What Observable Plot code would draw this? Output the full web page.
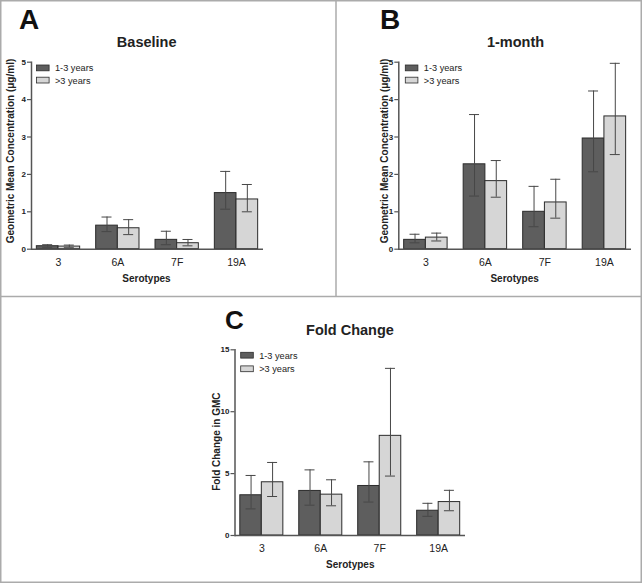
<!DOCTYPE html>
<html><head><meta charset="utf-8">
<script src="https://cdn.jsdelivr.net/npm/d3@7"></script>
<script src="https://cdn.jsdelivr.net/npm/@observablehq/plot@0.6"></script>
<style>
body{margin:0;background:#fff;}
#wrap{position:relative;width:642px;height:583px;background:#fff;overflow:hidden;font-family:"Liberation Sans",Arial,sans-serif;}
#wrap svg{position:absolute;}
</style></head><body><div id="wrap"></div>
<script>
// ---------- data ----------
const serotypes = ["3", "6A", "7F", "19A"];
const groups = ["1-3 years", ">3 years"];

// Panel A: Baseline GMC (µg/ml)
const baseYoung   = [0.08, 0.63, 0.25, 1.50];
const baseYoungLo = [0.05, 0.47, 0.12, 1.07];
const baseYoungHi = [0.12, 0.86, 0.48, 2.08];
const baseOld     = [0.07, 0.56, 0.16, 1.33];
const baseOldLo   = [0.04, 0.39, 0.09, 1.00];
const baseOldHi   = [0.11, 0.79, 0.26, 1.73];

// Panel B: 1-month GMC (µg/ml)
const monthYoung   = [0.25, 2.27, 1.00, 2.96];
const monthYoungLo = [0.17, 1.42, 0.60, 2.07];
const monthYoungHi = [0.40, 3.60, 1.68, 4.23];
const monthOld     = [0.31, 1.82, 1.25, 3.55];
const monthOldLo   = [0.22, 1.39, 0.83, 2.53];
const monthOldHi   = [0.43, 2.37, 1.87, 4.97];

// Panel C: Fold change in GMC
const foldYoung   = [3.25, 3.60, 4.00, 2.00];
const foldYoungLo = [2.15, 2.45, 2.70, 1.55];
const foldYoungHi = [4.85, 5.30, 5.95, 2.60];
const foldOld     = [4.30, 3.30, 8.05, 2.70];
const foldOldLo   = [3.15, 2.40, 4.80, 2.00];
const foldOldHi   = [5.90, 4.50, 13.50, 3.65];

const ticksAB = [0, 1, 2, 3, 4, 5];
const ticksC = [0, 5, 10, 15];

// ---------- styles ----------
const DARK = "#5e5e5e", LIGHT = "#d6d6d6", EDGE = "#2b2b2b", ERR = "#474747", AXIS = "#555", TXT = "#222";
const FONT = '"Liberation Sans", Arial, sans-serif';

function rowsOf(v1, l1, h1, v2, l2, h2) {
  return serotypes.map((cat, i) => ({cat, v1: v1[i], lo1: l1[i], hi1: h1[i], v2: v2[i], lo2: l2[i], hi2: h2[i]}));
}

function panel({rows, yMax, yTicks, width, height, mt, mr, mb, ml}) {
  const pi = 0.27, po = 0.09;
  const bw = d3.scaleBand().domain(serotypes).range([ml, width - mr]).paddingInner(pi).paddingOuter(po).bandwidth();
  const half = bw / 2, q = bw / 4, cap = 5;
  const capL = {insetLeft: q - cap, insetRight: 3 * q - cap};
  const capR = {insetLeft: 3 * q - cap, insetRight: q - cap};
  const errStyle = {stroke: ERR, strokeWidth: 1};
  return Plot.plot({
    width, height,
    marginTop: mt, marginRight: mr, marginBottom: mb, marginLeft: ml,
    style: {fontFamily: FONT, color: AXIS, background: "transparent", overflow: "visible"},
    x: {domain: serotypes, paddingInner: pi, paddingOuter: po, align: 0.5, round: false, label: null},
    y: {domain: [0, yMax], label: null},
    marks: [
      Plot.barY(rows, {x: "cat", y: "v1", insetRight: half, fill: DARK, stroke: EDGE, strokeWidth: 1}),
      Plot.barY(rows, {x: "cat", y: "v2", insetLeft: half, fill: LIGHT, stroke: EDGE, strokeWidth: 1}),
      Plot.ruleX(rows, {x: "cat", y1: "lo1", y2: "hi1", dx: -q, ...errStyle}),
      Plot.ruleX(rows, {x: "cat", y1: "lo2", y2: "hi2", dx: q, ...errStyle}),
      Plot.tickY(rows, {x: "cat", y: "hi1", ...capL, ...errStyle}),
      Plot.tickY(rows, {x: "cat", y: "lo1", ...capL, ...errStyle}),
      Plot.tickY(rows, {x: "cat", y: "hi2", ...capR, ...errStyle}),
      Plot.tickY(rows, {x: "cat", y: "lo2", ...capR, ...errStyle}),
      Plot.frame({anchor: "left", stroke: AXIS, strokeWidth: 1.5}),
      Plot.ruleY([0], {stroke: AXIS, strokeWidth: 1.5}),
      Plot.axisY({ticks: yTicks, tickFormat: d => d, tickSize: 4, tickPadding: 1.5, fontSize: 8, fontWeight: "bold", fill: TXT, stroke: AXIS, strokeWidth: 1.2, label: null}),
      Plot.axisX({tickSize: 0, tickPadding: 9, fontSize: 10.5, fill: TXT, label: null})
    ]
  });
}

const wrap = document.getElementById("wrap");

function place(svg, left, top) {
  svg.style.left = left + "px";
  svg.style.top = top + "px";
  wrap.appendChild(svg);
}

place(panel({rows: rowsOf(baseYoung, baseYoungLo, baseYoungHi, baseOld, baseOldLo, baseOldHi),
  yMax: 5, yTicks: ticksAB, width: 336, height: 296, mt: 61.7, mr: 73, mb: 47.3, ml: 31}), 0, 0);
place(panel({rows: rowsOf(monthYoung, monthYoungLo, monthYoungHi, monthOld, monthOldLo, monthOldHi),
  yMax: 5, yTicks: ticksAB, width: 306, height: 296, mt: 61.7, mr: 11, mb: 47.3, ml: 62.3}), 336, 0);
place(panel({rows: rowsOf(foldYoung, foldYoungLo, foldYoungHi, foldOld, foldOldLo, foldOldHi),
  yMax: 15, yTicks: ticksC, width: 642, height: 287, mt: 53.3, mr: 177, mb: 48, ml: 234.5}), 0, 296);

// ---------- overlay: borders, titles, axis titles, legends ----------
const ov = d3.select(wrap).append("svg")
  .attr("width", 642).attr("height", 583)
  .style("left", "0px").style("top", "0px")
  .style("pointer-events", "none")
  .style("font-family", FONT);

const BORDER = "#ababab";
ov.append("rect").attr("x", 0.75).attr("y", 0.75).attr("width", 640.5).attr("height", 581.5)
  .attr("fill", "none").attr("stroke", BORDER).attr("stroke-width", 1.5);
ov.append("line").attr("x1", 336).attr("x2", 336).attr("y1", 0).attr("y2", 296)
  .attr("stroke", BORDER).attr("stroke-width", 1.5);
ov.append("line").attr("x1", 0).attr("x2", 642).attr("y1", 296.5).attr("y2", 296.5)
  .attr("stroke", BORDER).attr("stroke-width", 1.5);

const panels = [
  {letter: "A", lx: 19, ly: 29.3, ls: 28, title: "Baseline", tx: 146.7, ty: 47.3,
   ylab: "Geometric Mean Concentration (μg/ml)", yx: 13.5, yy: 151,
   xlab: "Serotypes", sx: 146.5, sy: 282, legX: 36.5, legY: 65, legGap: 12.2},
  {letter: "B", lx: 380, ly: 29.3, ls: 28, title: "1-month", tx: 515.5, ty: 47.3,
   ylab: "Geometric Mean Concentration (μg/ml)", yx: 387.5, yy: 151,
   xlab: "Serotypes", sx: 514.6, sy: 282, legX: 405.3, legY: 65, legGap: 12.2},
  {letter: "C", lx: 225, ly: 328.8, ls: 26, title: "Fold Change", tx: 350, ty: 334.5,
   ylab: "Fold Change in GMC", yx: 219.5, yy: 441.7,
   xlab: "Serotypes", sx: 350.3, sy: 568, legX: 240.7, legY: 352.3, legGap: 13.6}
];

for (const p of panels) {
  ov.append("text").attr("x", p.lx).attr("y", p.ly).attr("font-size", p.ls).attr("font-weight", "bold")
    .attr("fill", "#111").text(p.letter);
  ov.append("text").attr("x", p.tx).attr("y", p.ty).attr("font-size", 14.5).attr("font-weight", "bold")
    .attr("text-anchor", "middle").attr("fill", TXT).text(p.title);
  ov.append("text").attr("transform", `translate(${p.yx},${p.yy}) rotate(-90)`).attr("font-size", 10)
    .attr("font-weight", "bold").attr("text-anchor", "middle").attr("fill", TXT).text(p.ylab);
  ov.append("text").attr("x", p.sx).attr("y", p.sy).attr("font-size", 10).attr("font-weight", "bold")
    .attr("text-anchor", "middle").attr("fill", TXT).text(p.xlab);
  groups.forEach((g, i) => {
    const y = p.legY + i * p.legGap;
    ov.append("rect").attr("x", p.legX).attr("y", y).attr("width", 12.6).attr("height", 5.8)
      .attr("fill", i === 0 ? DARK : LIGHT).attr("stroke", EDGE).attr("stroke-width", 0.8);
    ov.append("text").attr("x", p.legX + 18.5).attr("y", y + 6.4).attr("font-size", 9.2)
      .attr("fill", TXT).text(g);
  });
}
</script>
</body></html>
